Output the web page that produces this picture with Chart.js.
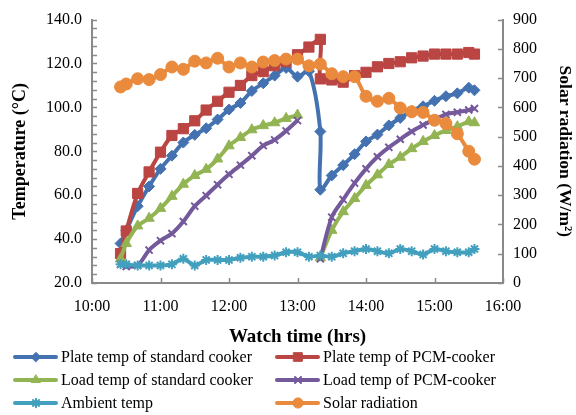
<!DOCTYPE html>
<html>
<head>
<meta charset="utf-8">
<script src="https://cdn.jsdelivr.net/npm/chart.js@4.4.1/dist/chart.umd.min.js"></script>
<style>
html, body { margin:0; padding:0; background:#fff; }
</style>
</head>
<body>
<canvas id="chart1" width="576" height="415"></canvas>
<script>
// sampling times (13:20 appears twice: before / after the new load)
var times = ["10:25","10:30","10:40","10:50","11:00","11:10","11:20","11:30","11:40","11:50",
             "12:00","12:10","12:20","12:30","12:40","12:50","13:00","13:10","13:20","13:20",
             "13:30","13:40","13:50","14:00","14:10","14:20","14:30","14:40","14:50","15:00",
             "15:10","15:20","15:30","15:35"];

var plateStd = [38,44,55,64,72,78,84,87.5,90.5,94.5,
                99,102,107.5,111,114.5,118,114,116.5,89,62.5,
                69,73.7,78.7,84.5,87.6,91.8,95.2,98.4,100.5,103,
                105.1,106.4,109,107.8];
var platePcm = [33.4,43.7,60.8,70.6,79.6,87.2,90.3,93.9,98.8,102.8,
                106.9,110,114.5,116.3,119,120.8,124,127.5,131,113,
                112.5,111.5,114.5,116,118.5,120,120.8,122.6,123.4,124.3,
                124.3,124.3,125,124.3];
var loadStd = [31,38,46,49.5,54,59.5,65,69,71.8,76.5,
               82.5,86.3,89.8,91.7,93,95,96.5,null,null,31.5,
               44,52.5,58.5,64.5,69.3,74,77.3,81.2,84.5,87.2,
               89.5,91.2,93.5,93];
var loadPcm = [28.5,27.5,28,35,39.3,42.5,48,55,59.8,64.8,
               69.5,73.7,78,82.6,85.2,89.3,94,null,null,31,
               50,58,65.5,72,77.5,81.8,85.5,89,92,94.5,
               96.8,97.8,98.8,99.5];
var ambient = [28.5,28.5,28,28,28,28.5,31,28,30.5,30.5,
               30.5,31.5,32,32,32.5,34,34,32,32.5,null,
               32,33.5,34.5,35.5,34.5,33.5,35.5,34.5,33,35.5,
               34.5,34,34,35.5];
var solar = [670,680,698,695,712,738,730,758,752,768,
             738,752,738,755,760,765,765,742,748,null,
             715,705,705,638,621,631,598,585,583,556,
             545,510,450,423];

var tempTicks = [20,40,60,80,100,120,140];
var solarTicks = [0,100,200,300,400,500,600,700,800,900];
var hourTicks = [10,11,12,13,14,15,16];

function toHours(s){
    var p = s.split(':');
    return Number(p[0]) + Number(p[1]) / 60;
}
function pts(vals){
    return times.map(function(t, i){ return {x: toHours(t), y: vals[i]}; });
}

var serif = '"Liberation Serif", "Times New Roman", serif';
Chart.defaults.font.family = serif;
Chart.defaults.color = '#000';

function series(label, vals, color, style, r, axis, order, gaps){
    return {
        label: label, data: pts(vals), yAxisID: axis,
        borderColor: color, backgroundColor: color,
        pointBackgroundColor: color, pointBorderColor: color,
        pointStyle: style, pointRadius: r, pointBorderWidth: (style == 'crossRot' || style == 'star') ? 2 : 1,
        borderWidth: 4, tension: 0.3, spanGaps: gaps, order: order
    };
}

var datasets = [
    series('Plate temp of standard cooker', plateStd, '#4472B0', 'rectRot', 5.5, 'y', 6, false),
    series('Plate temp of PCM-cooker', platePcm, '#BA4542', 'rect', 7.2, 'y', 5, false),
    series('Load temp of standard cooker', loadStd, '#92B453', 'triangle', 6, 'y', 4, false),
    series('Load temp of PCM-cooker', loadPcm, '#74599B', 'crossRot', 5, 'y', 3, false),
    series('Ambient temp', ambient, '#42A0BE', 'star', 5, 'y', 2, true),
    series('Solar radiation', solar, '#EA8A3C', 'circle', 6, 'y1', 1, true)
];

// inward tick marks (minor ones on the temperature axis)
var tickMarks = {
    id: 'tickMarks',
    beforeDatasetsDraw: function(chart){
        var ctx = chart.ctx, a = chart.chartArea;
        var y = chart.scales.y, y1 = chart.scales.y1, x = chart.scales.x;
        ctx.save();
        ctx.strokeStyle = '#8a8a8a';
        ctx.lineWidth = 1.5;
        ctx.beginPath();
        for (var v = 20; v <= 140; v += 4){
            var py = Math.round(y.getPixelForValue(v)) + 0.5;
            ctx.moveTo(a.left, py); ctx.lineTo(a.left + 5, py);
        }
        solarTicks.forEach(function(s){
            var py = Math.round(y1.getPixelForValue(s)) + 0.5;
            ctx.moveTo(a.right, py); ctx.lineTo(a.right - 5, py);
        });
        hourTicks.forEach(function(h){
            var px = Math.round(x.getPixelForValue(h)) + 0.5;
            ctx.moveTo(px, a.bottom); ctx.lineTo(px, a.bottom - 5);
        });
        ctx.stroke();
        ctx.restore();
    }
};

// two-column legend under the axis title
var legendPos = [[15,357],[277,357],[15,380],[277,380],[15,403],[277,403]];
var bottomLegend = {
    id: 'bottomLegend',
    afterDraw: function(chart){
        var ctx = chart.ctx;
        ctx.save();
        chart.data.datasets.forEach(function(ds, i){
            var p = legendPos[i];
            ctx.strokeStyle = ds.borderColor;
            ctx.lineWidth = 4;
            ctx.lineCap = 'round';
            ctx.beginPath();
            ctx.moveTo(p[0], p[1]); ctx.lineTo(p[0] + 41, p[1]);
            ctx.stroke();
            ctx.fillStyle = ds.borderColor;
            ctx.lineWidth = ds.pointBorderWidth;
            if (Chart.helpers && Chart.helpers.drawPoint){
                Chart.helpers.drawPoint(ctx, {pointStyle: ds.pointStyle, radius: ds.pointRadius * 0.85, borderWidth: ds.pointBorderWidth, rotation: 0}, p[0] + 21, p[1]);
            }
            ctx.fillStyle = '#000';
            ctx.font = '16px ' + serif;
            ctx.textBaseline = 'middle';
            ctx.textAlign = 'left';
            ctx.fillText(ds.label, p[0] + 46, p[1] + 1);
        });
        ctx.restore();
    }
};

var axisColor = '#898989';
new Chart(document.getElementById('chart1'), {
    type: 'line',
    data: { datasets: datasets },
    plugins: [tickMarks, bottomLegend],
    options: {
        responsive: false,
        animation: false,
        events: [],
        layout: { padding: { top: 15, bottom: 67, left: 0, right: 0 } },
        plugins: { legend: { display: false }, tooltip: { enabled: false } },
        scales: {
            x: {
                type: 'linear', min: 10, max: 16,
                afterBuildTicks: function(s){ s.ticks = hourTicks.map(function(h){ return {value: h}; }); },
                afterFit: function(s){ s.height = 65; },
                grid: { display: false, drawTicks: false },
                border: { display: true, color: axisColor, width: 2 },
                ticks: { padding: 14, font: { size: 16 }, maxRotation: 0, autoSkip: false,
                         callback: function(v){ return v + ':00'; } },
                title: { display: true, text: 'Watch time (hrs)', font: { size: 19, weight: 'bold' }, padding: 0 }
            },
            y: {
                position: 'left', min: 20, max: 140,
                afterBuildTicks: function(s){ s.ticks = tempTicks.map(function(v){ return {value: v}; }); },
                afterFit: function(s){ s.width = 92; },
                grid: { display: false, drawTicks: false },
                border: { display: true, color: axisColor, width: 2 },
                ticks: { padding: 10, font: { size: 16 }, callback: function(v){ return v.toFixed(1); } },
                title: { display: true, text: 'Temperature (°C)', font: { size: 18, weight: 'bold' }, padding: { top: 10 } }
            },
            y1: {
                position: 'right', min: 0, max: 900,
                afterBuildTicks: function(s){ s.ticks = solarTicks.map(function(v){ return {value: v}; }); },
                afterFit: function(s){ s.width = 73; },
                grid: { display: false, drawTicks: false },
                border: { display: true, color: axisColor, width: 2 },
                ticks: { padding: 10, font: { size: 16 } },
                title: { display: true, text: 'Solar radiation (W/m²)', font: { size: 17.5, weight: 'bold' }, padding: { top: 1 } }
            }
        }
    }
});
</script>
</body>
</html>
